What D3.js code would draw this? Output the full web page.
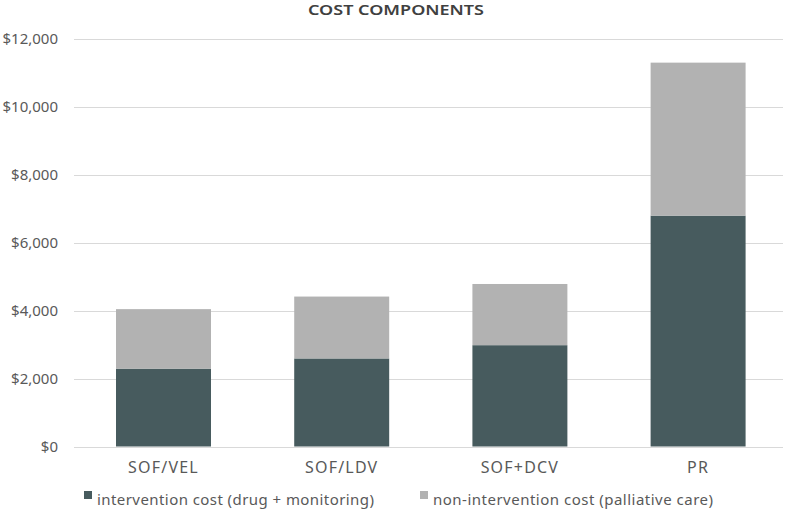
<!DOCTYPE html>
<html>
<head>
<meta charset="utf-8">
<script src="https://cdn.jsdelivr.net/npm/d3@7"></script>
<style>
  body { margin: 0; background: #fff; }
  svg { display: block; }
  text { font-family: "Noto Sans", "Open Sans", sans-serif; }
</style>
</head>
<body>
<svg id="chart" width="788" height="509"></svg>
<script>
const title = "COST COMPONENTS";
const categories = ["SOF/VEL", "SOF/LDV", "SOF+DCV", "PR"];
const seriesNames = ["intervention cost (drug + monitoring)", "non-intervention cost (palliative care)"];
const intervention = [2290, 2590, 2980, 6790];
const nonIntervention = [1750, 1820, 1800, 4500];
const yTicks = [0, 2000, 4000, 6000, 8000, 10000, 12000];
const colors = ["#475b5e", "#b2b2b2"];

const svg = d3.select("#chart");
const x = d3.scaleBand().domain(categories).range([74.4, 787.2]).paddingInner(0.467).paddingOuter(0.2335);
const y = d3.scaleLinear().domain([0, 12000]).range([446.5, 38.5]);

// gridlines
svg.append("g").selectAll("line").data(yTicks).join("line")
  .attr("x1", 74).attr("x2", 783)
  .attr("y1", d => Math.round(y(d)) + 0.5).attr("y2", d => Math.round(y(d)) + 0.5)
  .attr("stroke", "#d9d9d9").attr("stroke-width", 1);

// y axis labels
const yAxis = d3.axisLeft(y).tickValues(yTicks).tickSize(0).tickPadding(0)
  .tickFormat(d => "$" + d3.format(",")(d));
svg.append("g").attr("transform", "translate(58,0)").call(yAxis)
  .call(g => g.select(".domain").remove())
  .call(g => g.selectAll("text").attr("fill", "#595959")
    .attr("font-family", "'Liberation Sans Narrow', 'Noto Sans', sans-serif").style("font-size", "15px"));

// stacked data
const rows = categories.map((c, i) => ({cat: c, a: intervention[i], b: nonIntervention[i]}));
const stack = d3.stack().keys(["a", "b"])(rows);
svg.append("g").selectAll("g").data(stack).join("g")
  .attr("fill", (d, i) => colors[i])
  .selectAll("rect").data(d => d).join("rect")
  .attr("x", d => x(d.data.cat))
  .attr("width", x.bandwidth())
  .attr("y", d => y(d[1]))
  .attr("height", d => y(d[0]) - y(d[1]));

// x axis labels
const xAxis = d3.axisBottom(x).tickSize(0).tickPadding(0);
svg.append("g").attr("transform", "translate(0,473)").call(xAxis)
  .call(g => g.select(".domain").remove())
  .call(g => g.selectAll("text").attr("dy", 0).attr("fill", "#595959")
    .attr("font-family", "'Noto Sans', sans-serif").style("font-size", "16px")
    .style("letter-spacing", "1.2px"));

// title
svg.append("text").attr("x", 396).attr("y", 15).attr("text-anchor", "middle")
  .attr("fill", "#404040").style("font-size", "15px").attr("font-weight", "600")
  .attr("font-family", "'Open Sans', sans-serif")
  .attr("textLength", 176).attr("lengthAdjust", "spacingAndGlyphs")
  .text(title);

// legend
const legendX = [84, 420];
const legendW = [277, 280];
const lg = svg.append("g").selectAll("g").data(seriesNames).join("g")
  .attr("transform", (d, i) => `translate(${legendX[i]},0)`);
lg.append("rect").attr("x", 0).attr("y", 491).attr("width", 8).attr("height", 8)
  .attr("fill", (d, i) => colors[i]);
lg.append("text").attr("x", 13).attr("y", 505).attr("fill", "#595959")
  .style("font-size", "15px")
  .attr("textLength", (d, i) => legendW[i]).attr("lengthAdjust", "spacing")
  .text(d => d);
</script>
</body>
</html>
